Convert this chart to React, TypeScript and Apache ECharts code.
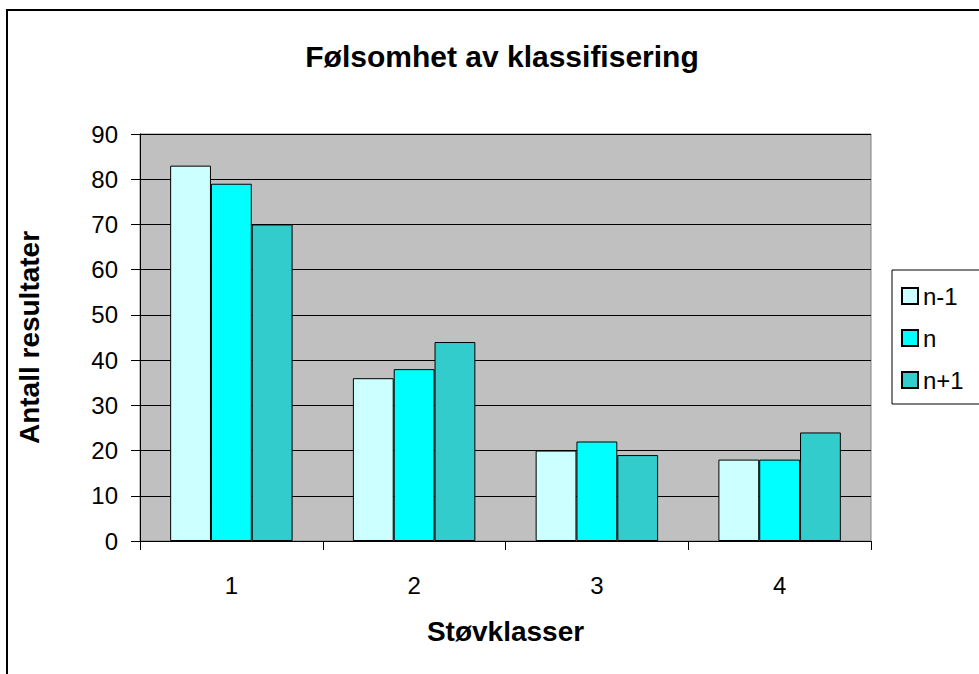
import React, { useEffect, useRef } from "react";
import * as echarts from "echarts";

const categories = ["1", "2", "3", "4"];
const seriesNames = ["n-1", "n", "n+1"];
const valuesNm1 = [83, 36, 20, 18];
const valuesN = [79, 38, 22, 18];
const valuesNp1 = [70, 44, 19, 24];
const colors = ["#CCFFFF", "#00FFFF", "#33CCCC"];

export default function App() {
  const ref = useRef<HTMLDivElement>(null);
  useEffect(() => {
    if (!ref.current) return;
    const chart = echarts.init(ref.current, null, { renderer: "svg" });
    const font = "Arial, 'Liberation Sans', sans-serif";
    const data = [valuesNm1, valuesN, valuesNp1];
    chart.setOption({
      animation: false,
      backgroundColor: "#ffffff",
      textStyle: { fontFamily: font },
      title: {
        text: "Følsomhet av klassifisering",
        left: 497,
        textAlign: "center",
        top: 36,
        textStyle: { fontSize: 30, fontWeight: "bold", color: "#000", fontFamily: font },
      },
      graphic: [
        {
          type: "rect",
          shape: { x: 7, y: 10, width: 1100, height: 800 },
          style: { fill: "none", stroke: "#000", lineWidth: 2 },
          silent: true,
          z: 100,
        },
      ],
      legend: {
        orient: "vertical",
        left: 892,
        top: 270,
        padding: [14, 16, 12, 9],
        itemGap: 18,
        itemWidth: 16,
        itemHeight: 16,
        icon: "rect",
        borderColor: "#000",
        borderWidth: 1,
        backgroundColor: "#fff",
        textStyle: { fontSize: 24, color: "#000", fontFamily: font },
        data: seriesNames,
      },
      grid: {
        left: 140,
        top: 134,
        width: 731,
        height: 407,
        show: true,
        backgroundColor: "#C0C0C0",
        borderColor: "#808080",
        borderWidth: 1,
        containLabel: false,
      },
      xAxis: {
        type: "category",
        data: categories,
        name: "Støvklasser",
        nameLocation: "middle",
        nameGap: 76,
        nameTextStyle: { fontSize: 28, fontWeight: "bold", color: "#000", fontFamily: font },
        axisLine: { lineStyle: { color: "#000", width: 1 } },
        axisTick: { show: true, length: 9, lineStyle: { color: "#000" } },
        axisLabel: { fontSize: 24, color: "#000", margin: 32, fontFamily: font },
      },
      yAxis: {
        type: "value",
        min: 0,
        max: 90,
        interval: 10,
        name: "Antall resultater",
        nameLocation: "middle",
        nameGap: 97,
        nameTextStyle: { fontSize: 28, fontWeight: "bold", color: "#000", fontFamily: font },
        axisLine: { show: true, lineStyle: { color: "#000", width: 1 } },
        axisTick: { show: true, length: 9, lineStyle: { color: "#000" } },
        axisLabel: { fontSize: 24, color: "#000", margin: 22, fontFamily: font },
        splitLine: { show: true, lineStyle: { color: "#000", width: 1 } },
      },
      series: seriesNames.map((name, i) => ({
        name,
        type: "bar",
        data: data[i],
        barGap: "0%",
        barCategoryGap: "33%",
        itemStyle: { color: colors[i], borderColor: "#000", borderWidth: 1 },
      })),
    });
    return () => chart.dispose();
  }, []);
  return (
    <div
      ref={ref}
      style={{ position: "fixed", left: 0, top: 0, width: 979, height: 674 }}
    />
  );
}
